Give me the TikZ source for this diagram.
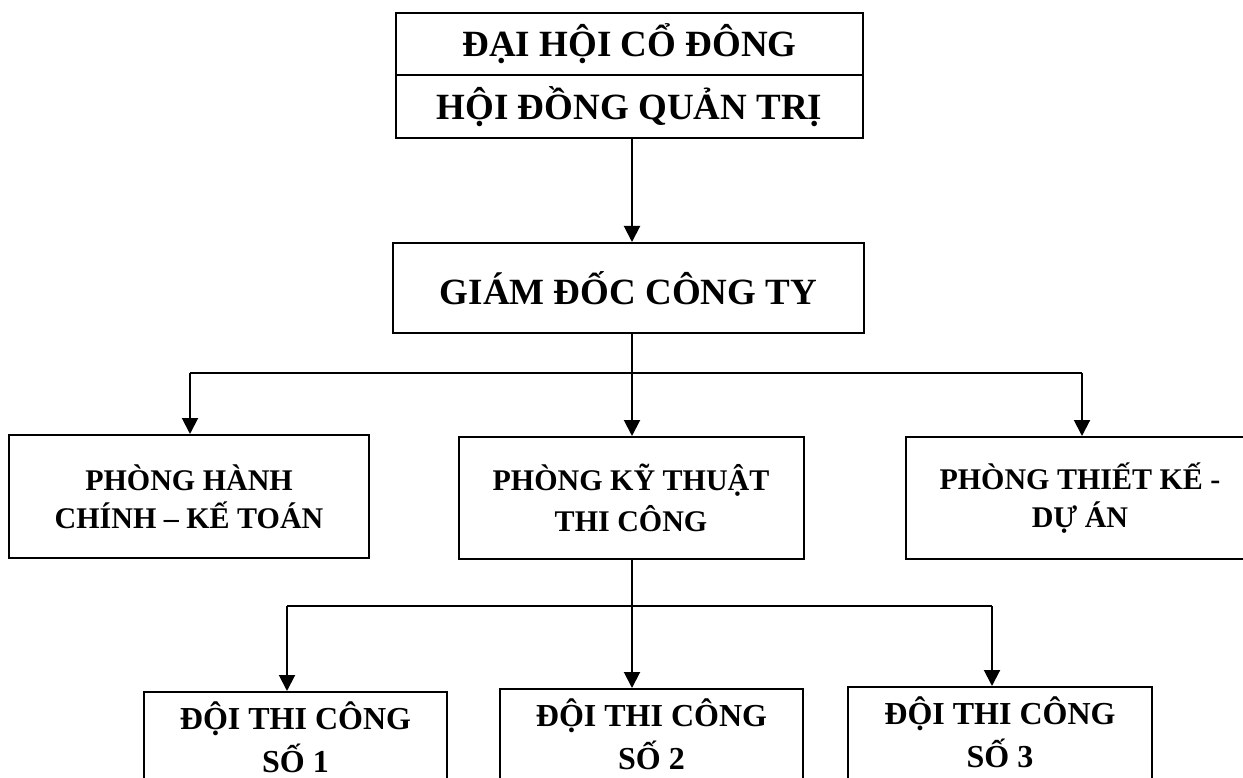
\documentclass[tikz,border=0pt]{standalone}
\usepackage{fontspec}
\setmainfont{Liberation Serif}
\usetikzlibrary{arrows.meta}
\begin{document}
\begin{tikzpicture}[x=1pt,y=-1pt,
  box/.style={draw,line width=2pt,rectangle,inner sep=0pt,align=center},
  big/.style={font=\fontsize{37}{44}\selectfont\bfseries},
  mid/.style={font=\fontsize{30}{38}\selectfont\bfseries},
  small/.style={font=\fontsize{32}{43}\selectfont\bfseries},
  link/.style={line width=2pt},
  arrowlink/.style={link,-{Triangle[length=16pt,width=16pt]}}]
\useasboundingbox (0,0) rectangle (1243,778);
\fill[white] (0,0) rectangle (1243,778);

% top level: shareholders' meeting above the board
\node[box,big,minimum width=467pt,minimum height=62pt] (dh) at (629.5,44) {ĐẠI HỘI CỔ ĐÔNG};
\node[box,big,minimum width=467pt,minimum height=63pt] (hd) at (629.5,106.5) {HỘI ĐỒNG QUẢN TRỊ};

% director
\node[box,big,minimum width=471pt,minimum height=90pt] (gd) at (628.5,288) {GIÁM ĐỐC CÔNG TY};

% departments
\node[box,mid,minimum width=360pt,minimum height=123pt] (phc) at (189,496.5) {PHÒNG HÀNH\\CHÍNH – KẾ TOÁN};
\node[box,minimum width=345pt,minimum height=122pt,font=\fontsize{30}{41}\selectfont\bfseries] (pkt) at (631,498) {PHÒNG KỸ THUẬT\\THI CÔNG};
\node[box,mid,minimum width=348pt,minimum height=122pt] (ptk) at (1080,498) {PHÒNG THIẾT KẾ -\\DỰ ÁN};

% construction teams (their lower parts run past the page;
% the strut line keeps the text near the top of each box)
\node[box,small,minimum width=303pt,minimum height=146pt,anchor=north] (d1) at (295.5,691) {ĐỘI THI CÔNG\\SỐ 1\\\strut};
\node[box,small,minimum width=303pt,minimum height=146pt,anchor=north] (d2) at (651.5,688) {ĐỘI THI CÔNG\\ SỐ 2\\\strut};
\node[box,small,minimum width=304pt,minimum height=146pt,anchor=north] (d3) at (1000,686) {ĐỘI THI CÔNG\\SỐ 3\\\strut};

% connectors
\coordinate (spine) at (632,0);
\coordinate (a1) at (190,373);
\coordinate (a3) at (1082,373);
\coordinate (b1) at (287,606);
\coordinate (b3) at (992,606);

\draw[arrowlink] (hd.south -| spine) -- (gd.north -| spine);
\draw[arrowlink] (gd.south -| spine) -- (pkt.north -| spine);
\draw[link] (a1) -- (a3);
\draw[arrowlink] (a1) -- (a1 |- phc.north);
\draw[arrowlink] (a3) -- (a3 |- ptk.north);

\draw[arrowlink] (pkt.south -| spine) -- (d2.north -| spine);
\draw[link] (b1) -- (b3);
\draw[arrowlink] (b1) -- (b1 |- d1.north);
\draw[arrowlink] (b3) -- (b3 |- d3.north);
\end{tikzpicture}
\end{document}
